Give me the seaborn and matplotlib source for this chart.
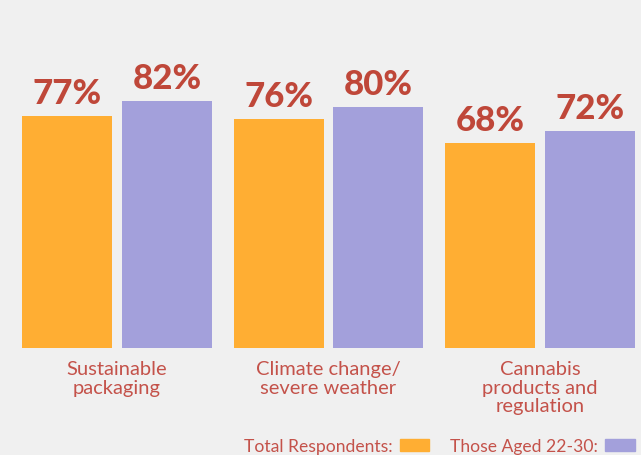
import matplotlib
matplotlib.use("Agg")
import matplotlib.pyplot as plt
import seaborn as sns
import pandas as pd

# Survey results by topic
categories = ["Sustainable\npackaging", "Climate change/\nsevere weather", "Cannabis\nproducts and\nregulation"]
groups = ["Total Respondents:", "Those Aged 22-30:"]
total_respondents = [77, 76, 68]
aged_22_30 = [82, 80, 72]

BG = "#f0f0f0"
ORANGE = "#ffae33"
PURPLE = "#a3a0db"
VALUE_RED = "#bf4739"
LABEL_RED = "#c4524a"

df = pd.DataFrame({
    "topic": categories * 2,
    "group": [groups[0]] * 3 + [groups[1]] * 3,
    "pct": total_respondents + aged_22_30,
})

sns.set_theme(style="white")
plt.rcParams["font.family"] = ["Lato", "DejaVu Sans"]

W, H = 641, 456
fig = plt.figure(figsize=(W / 100, H / 100), dpi=100, facecolor=BG)
ax = fig.add_axes([0, 107 / H, 1, 349 / H])
ax.set_facecolor(BG)

sns.barplot(data=df, x="topic", y="pct", hue="group", order=categories,
            hue_order=groups, palette=[ORANGE, PURPLE], width=0.945, gap=0.1,
            saturation=1, linewidth=0, edgecolor="none", ax=ax, legend=False)

ax.set_xlim(-117 / 211.5, (641 - 117) / 211.5)
ax.set_ylim(0, 349 / 3.013)

for cont in ax.containers:
    ax.bar_label(cont, fmt="%d%%", padding=5, color=VALUE_RED,
                 fontsize=25, fontweight="black")

ax.set_xlabel("")
ax.set_ylabel("")
ax.set_yticks([])
ax.tick_params(axis="x", length=0, pad=9, labelsize=14.5, labelcolor=LABEL_RED)
for lab in ax.get_xticklabels():
    lab.set_linespacing(1.08)
for s in ax.spines.values():
    s.set_visible(False)

# Legend along the bottom edge, text before each swatch
handles = [plt.Rectangle((0, 0), 1, 1, color=c) for c in (ORANGE, PURPLE)]
leg = fig.legend(handles, groups, loc="center right",
                 bbox_to_anchor=(635 / W, 1 - 447 / H), ncol=2, frameon=False,
                 markerfirst=False, fontsize=12.6, handlelength=1.7,
                 handleheight=0.68, handletextpad=0.4, columnspacing=1.2,
                 borderpad=0, borderaxespad=0)
for t in leg.get_texts():
    t.set_color(LABEL_RED)

fig.savefig("out.png", dpi=100, facecolor=BG)
